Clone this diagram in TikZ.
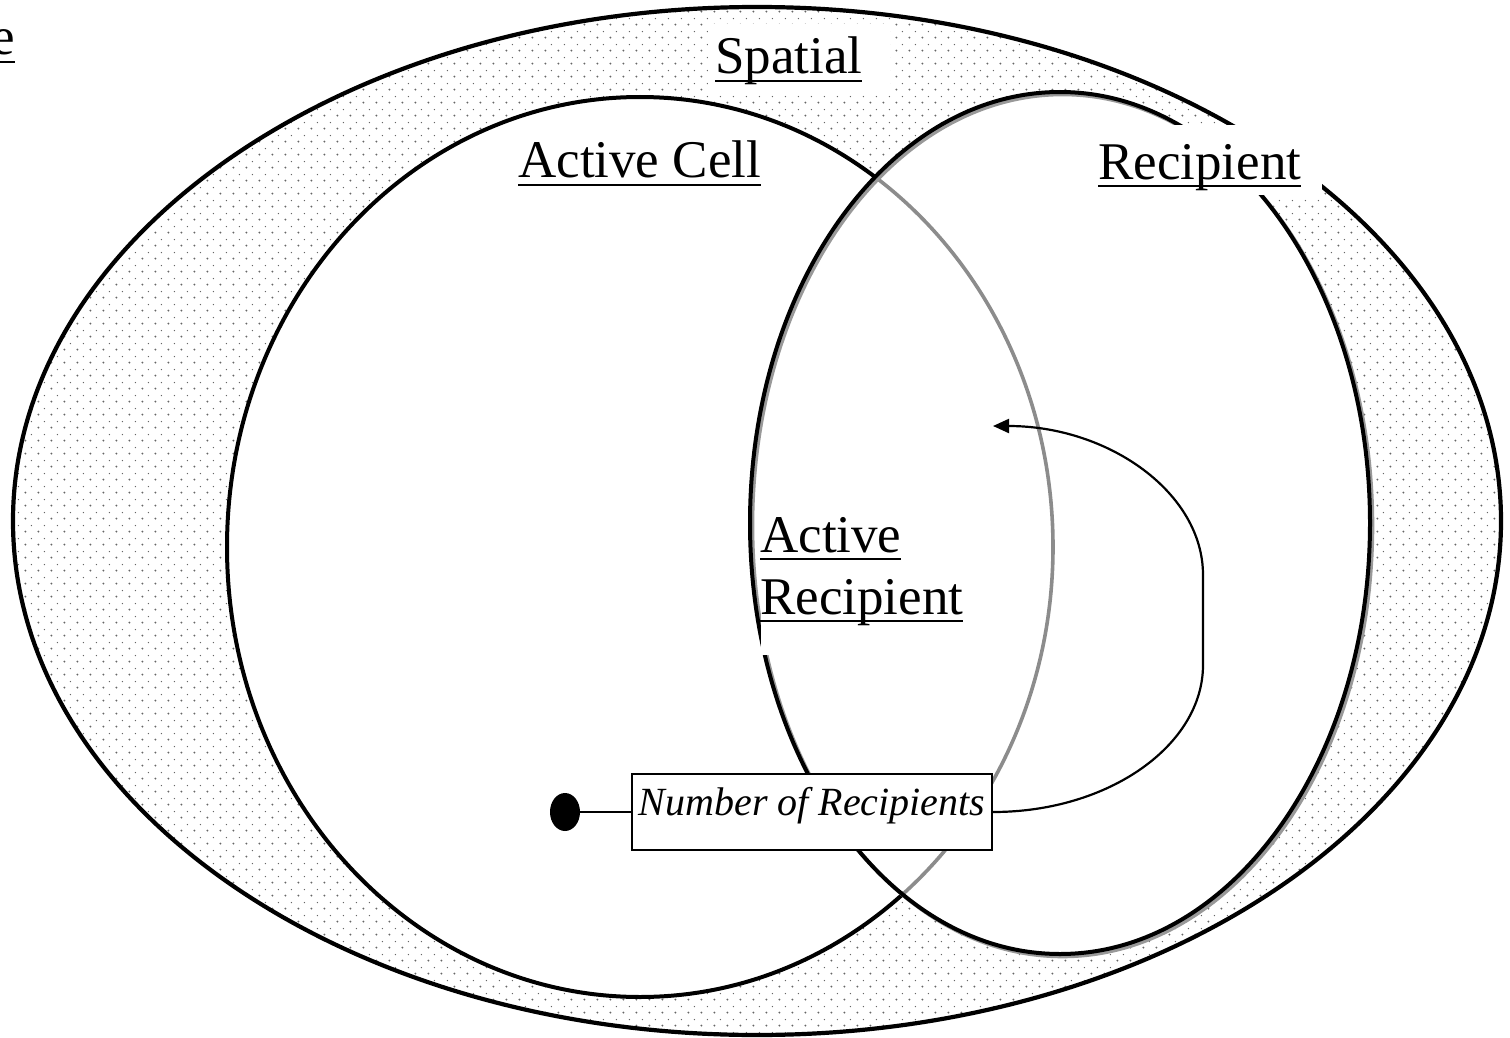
\documentclass[tikz,border=0pt]{standalone}
\usepackage{fontspec}
\setmainfont{Liberation Serif}
\usetikzlibrary{patterns.meta,shapes.geometric,arrows.meta}

% fine staggered dot screen for the shaded band
\tikzdeclarepattern{
  name=spdots, type=uncolored,
  bottom left={(-1.5pt,-1.5pt)}, top right={(11.5pt,11.5pt)},
  tile size={(13pt,13pt)},
  code={\fill (0pt,0pt) circle (1.1pt); \fill (6.5pt,6.5pt) circle (0.75pt);}
}

% underlined label text with a heavy rule
\newcommand\ulin[1]{\setbox0\hbox{#1}\rlap{\rule[-8.4pt]{\wd0}{2.7pt}}\box0}

\tikzset{
  rim/.style={line width=4.2pt, black},
  inner rim/.style={line width=4pt, black},
  faint rim/.style={line width=3.6pt, black!45},
  lbl/.style={inner sep=0pt, anchor=base west, font=\fontsize{53}{61}\selectfont},
  numbox/.style={draw, line width=2.2pt, fill=white, inner sep=0pt,
    minimum width=360pt, text height=41pt, text depth=35pt,
    font=\fontsize{40}{48}\selectfont\itshape},
  blob/.style={ellipse, fill=black, inner sep=0pt, minimum width=30pt, minimum height=38pt},
  link/.style={line width=2.2pt},
  flow/.style={line width=2.2pt, -{Triangle[length=16pt,width=14pt]}}
}

\begin{document}
\begin{tikzpicture}[x=1pt,y=-1pt]
\useasboundingbox (0,0) rectangle (1510,1038);
\fill[white] (0,0) rectangle (1510,1038);

% spatial region, shaded band
\fill[pattern=spdots, pattern color=black!60]
  (757,521) ellipse [x radius=744pt, y radius=514pt];
% cell and recipient regions are clear
\fill[white] (640,547) ellipse [x radius=413pt, y radius=450pt];
\fill[white] (1060,523) ellipse [x radius=310pt, y radius=431pt];

% spatial outline
\draw[rim] (757,521) ellipse [x radius=744pt, y radius=514pt];

% active cell outline: solid left of the chord through the two crossings
\begin{scope}
  \clip (0,0) -- (868,0) -- (908.6,1038) -- (0,1038) -- cycle;
  \draw[inner rim] (640,547) ellipse [x radius=413pt, y radius=450pt];
\end{scope}
% ... and grey where it runs inside the recipient region
\begin{scope}
  \clip (868,0) -- (1510,0) -- (1510,1038) -- (908.6,1038) -- cycle;
  \draw[faint rim] (640,547) ellipse [x radius=413pt, y radius=450pt];
\end{scope}

% recipient outline with a light drop shadow
\draw[line width=3.6pt, black!40] (1062.5,525.5) ellipse [x radius=310pt, y radius=431pt];
\draw[inner rim] (1060,523) ellipse [x radius=310pt, y radius=431pt];

% clear backgrounds behind the labels
\fill[white] (708,24) rectangle (890,94);
\fill[white] (1085,125) rectangle (1322,195);
\fill[white] (761,505) rectangle (975,655);

% labels
\node[lbl, anchor=base east] (lblE) at (15,55) {\ulin{e}};
\node[lbl] (lblSpatial) at (715,74) {\ulin{Spatial}};
\node[lbl] (lblCell) at (518,178) {\ulin{Active Cell}};
\node[lbl] (lblRecip) at (1098,179) {\ulin{Recipient}};
\node[lbl] (lblActive) at (760,552) {\ulin{Active}};
\node[lbl] (lblActRecip) at (760,614) {\ulin{Recipient}};

% count attribute and its links
\node[numbox, anchor=base] (nbox) at (812,815) {Number of Recipients};
\node[blob] (dot) at (565,812) {};
\draw[link] (dot.east) -- (nbox.west);

\coordinate (tip) at (993,426);
\draw[flow] (nbox.east) .. controls (1109,812) and (1203,745) .. (1203,665)
  -- (1203,575) .. controls (1203,493) and (1109,426) .. (tip);
\end{tikzpicture}
\end{document}
